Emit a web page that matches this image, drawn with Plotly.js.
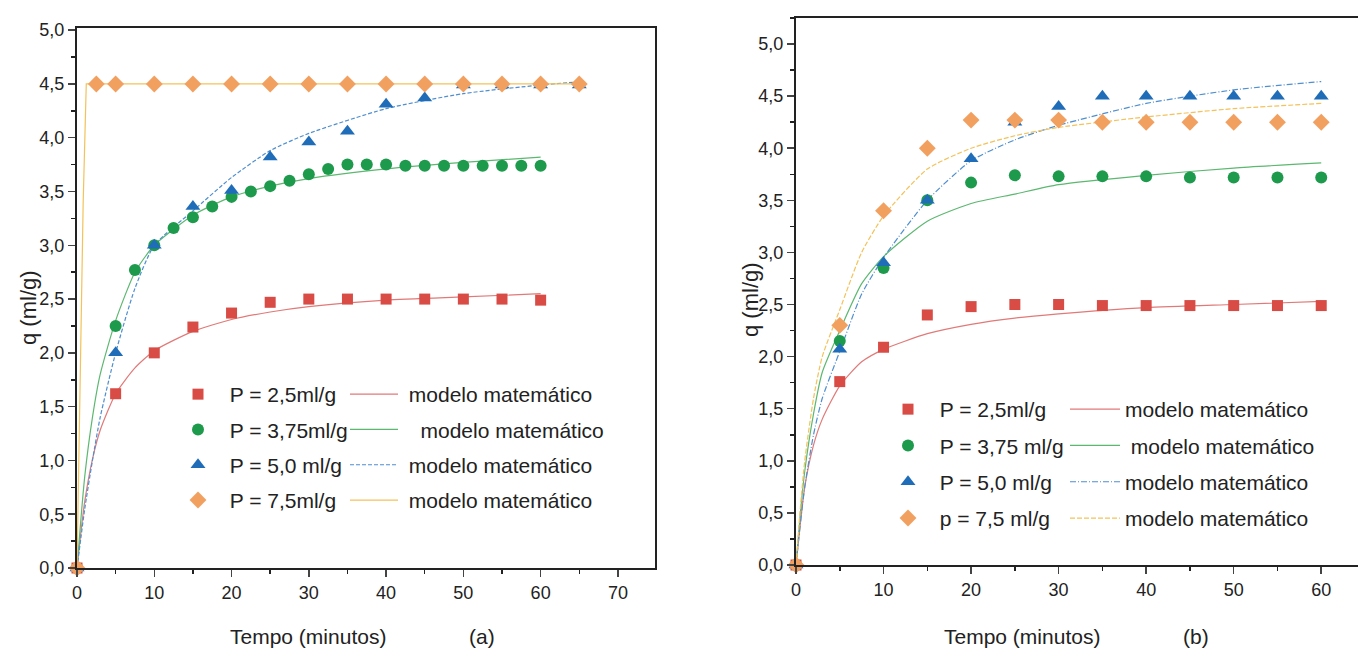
<!DOCTYPE html>
<html>
<head>
<meta charset="utf-8">
<script src="https://cdn.plot.ly/plotly-3.0.1.min.js"></script>
<style>
html,body{margin:0;padding:0;background:#fff;}
#chart{width:1358px;height:654px;}
</style>
</head>
<body>
<div id="chart"></div>
<script>
// ---------- Chart (a) : measured data ----------
const a_t25  = [0,5,10,15,20,25,30,35,40,45,50,55,60];
const a_q25  = [0,1.62,2.0,2.24,2.37,2.47,2.5,2.5,2.5,2.5,2.5,2.5,2.49];
const a_t375 = [0,5,7.5,10,12.5,15,17.5,20,22.5,25,27.5,30,32.5,35,37.5,40,42.5,45,47.5,50,52.5,55,57.5,60];
const a_q375 = [0,2.25,2.77,3.0,3.16,3.26,3.36,3.45,3.5,3.55,3.6,3.66,3.71,3.75,3.75,3.75,3.74,3.74,3.74,3.74,3.74,3.74,3.74,3.74];
const a_t50  = [0,5,10,15,20,25,30,35,40,45,50,55,60,65];
const a_q50  = [0,2.0,3.0,3.36,3.51,3.82,3.96,4.06,4.31,4.37,4.49,4.49,4.49,4.49];
const a_t75  = [0,2.5,5,10,15,20,25,30,35,40,45,50,55,60,65];
const a_q75  = [0,4.5,4.5,4.5,4.5,4.5,4.5,4.5,4.5,4.5,4.5,4.5,4.5,4.5,4.5];
// ---------- Chart (a) : model curves ----------
const a_mt    = [0,0.5,1,2,3,5,7.5,10,15,20,25,30,40,50,60];
const a_m25   = [0,0.33,0.62,1.01,1.28,1.62,1.86,2.02,2.2,2.31,2.38,2.43,2.49,2.52,2.55];
const a_m375  = [0,0.45,0.85,1.4,1.8,2.3,2.75,3.0,3.28,3.45,3.55,3.62,3.71,3.77,3.82];
const a_mt50  = [0,0.5,1,2,3,5,7.5,10,15,20,25,30,40,50,60,65];
const a_m50   = [0,0.28,0.55,1.0,1.4,2.0,2.6,3.0,3.32,3.63,3.88,4.04,4.27,4.41,4.49,4.52];
const a_mt75  = [0,0.4,0.8,1.2,65];
const a_m75   = [0,1.6,3.4,4.5,4.5];

// ---------- Chart (b) : measured data ----------
const b_t    = [0,5,10,15,20,25,30,35,40,45,50,55,60];
const b_q25  = [0,1.76,2.09,2.4,2.48,2.5,2.5,2.49,2.49,2.49,2.49,2.49,2.49];
const b_q375 = [0,2.15,2.85,3.5,3.67,3.74,3.73,3.73,3.73,3.72,3.72,3.72,3.72];
const b_q50  = [0,2.07,2.9,3.5,3.9,4.25,4.4,4.5,4.5,4.5,4.5,4.5,4.5];
const b_q75  = [0,2.3,3.4,4.0,4.27,4.27,4.27,4.25,4.25,4.25,4.25,4.25,4.25];
// ---------- Chart (b) : model curves ----------
const b_mt   = [0,0.5,1,2,3,5,7.5,10,15,20,25,30,40,50,60];
const b_m25  = [0,0.4,0.75,1.15,1.4,1.72,1.95,2.07,2.22,2.31,2.37,2.41,2.47,2.5,2.53];
const b_m375 = [0,0.5,0.9,1.45,1.85,2.25,2.7,2.96,3.3,3.47,3.56,3.65,3.74,3.81,3.86];
const b_m50  = [0,0.4,0.75,1.25,1.6,2.05,2.6,2.95,3.5,3.88,4.08,4.22,4.43,4.56,4.64];
const b_m75  = [0,0.55,1.0,1.6,2.0,2.45,3.0,3.35,3.8,4.0,4.12,4.2,4.3,4.38,4.43];

// ---------- labels ----------
const a_labels = ["P = 2,5ml/g","P = 3,75ml/g","P = 5,0 ml/g","P = 7,5ml/g"];
const b_labels = ["P = 2,5ml/g","P = 3,75 ml/g","P = 5,0 ml/g","p = 7,5 ml/g"];
const modelLabel = "modelo matemático";
const xTitleA = "Tempo (minutos)";
const xTagA = "(a)";
const xTitleB = "Tempo (minutos)";
const xTagB = "(b)";
const yTitle = "q (ml/g)";

// ---------- styles ----------
const FONT = "'Liberation Sans', Arial, sans-serif";
const mkCol = {r:'#d94b45', g:'#1e9a4c', b:'#1f6db8', o:'#f2a060'};
const lnCol = {r:'#e07a78', g:'#5cb870', b:'#4f8fd0', o:'#f3c25a'};
const sym = {r:'square', g:'circle', b:'triangle-up', o:'diamond'};
const msize = {r:11, g:12, b:13, o:13};
const NB = '&nbsp;&nbsp;';

function pts(x,y,c,name,xa,ya,leg,grp){
  return {type:'scatter',mode:'markers',x:x,y:y,name:NB+name,xaxis:xa,yaxis:ya,
    legend:leg,legendgroup:grp,cliponaxis:false,
    marker:{symbol:sym[c],color:mkCol[c],size:msize[c],line:{width:0}}};
}
function mdl(x,y,c,xa,ya,leg,grp,dash,pre){
  return {type:'scatter',mode:'lines',x:x,y:y,name:(pre||'')+modelLabel,xaxis:xa,yaxis:ya,
    legend:leg,legendgroup:grp,line:{color:lnCol[c],width:1.2,dash:dash||'solid',shape:'spline',smoothing:0.6}};
}

const traces = [
  // chart a models
  mdl(a_mt,a_m25,'r','x','y','legend2','am1','solid','&nbsp;'),
  mdl(a_mt,a_m375,'g','x','y','legend2','am2','solid','&nbsp;&nbsp;&nbsp;'),
  mdl(a_mt50,a_m50,'b','x','y','legend2','am3','4px,2px','&nbsp;'),
  Object.assign(mdl(a_mt75,a_m75,'o','x','y','legend2','am4','solid','&nbsp;'),{line:{color:lnCol.o,width:1.2}}),
  // chart a data
  pts(a_t25,a_q25,'r',a_labels[0],'x','y','legend','ad1'),
  pts(a_t375,a_q375,'g',a_labels[1],'x','y','legend','ad2'),
  pts(a_t50,a_q50,'b',a_labels[2],'x','y','legend','ad3'),
  pts(a_t75,a_q75,'o',a_labels[3],'x','y','legend','ad4'),
  // chart b models
  mdl(b_mt,b_m25,'r','x2','y2','legend4','bm1'),
  mdl(b_mt,b_m375,'g','x2','y2','legend4','bm2','solid','&nbsp;'),
  mdl(b_mt,b_m50,'b','x2','y2','legend4','bm3','6px,2px,1px,2px'),
  mdl(b_mt,b_m75,'o','x2','y2','legend4','bm4','5px,2px'),
  // chart b data
  pts(b_t,b_q25,'r',b_labels[0],'x2','y2','legend3','bd1'),
  pts(b_t,b_q375,'g',b_labels[1],'x2','y2','legend3','bd2'),
  pts(b_t,b_q50,'b',b_labels[2],'x2','y2','legend3','bd3'),
  pts(b_t,b_q75,'o',b_labels[3],'x2','y2','legend3','bd4')
];
traces.forEach((t,i)=>{ t.legendrank = i; });

const W=1358,H=654;
const px=v=>v/W, py=v=>1-v/H;

function xax(domain,range){
  return {domain:domain,range:range,dtick:10,tick0:0,ticks:'outside',ticklen:7,tickwidth:1.5,
    showline:true,linewidth:2,linecolor:'#222',mirror:true,showgrid:false,zeroline:false,
    minor:{ticks:'outside',ticklen:4,dtick:5,tickcolor:'#222'},
    tickfont:{family:FONT,size:18,color:'#222'},
    automargin:false,fixedrange:true};
}
function yax(domain,range,anchor){
  return {domain:domain,range:range,dtick:0.5,tick0:0,tickformat:'.1f',ticks:'outside',ticklen:7,tickwidth:1.5,
    showline:true,linewidth:2,linecolor:'#222',mirror:true,showgrid:false,zeroline:false,anchor:anchor,
    minor:{ticks:'outside',ticklen:4,dtick:0.25,tickcolor:'#222'},
    tickfont:{family:FONT,size:18,color:'#222'},
    automargin:false,fixedrange:true};
}
function leg(xp,yp,iw,gap){
  return {x:px(xp),y:py(yp),xanchor:'left',yanchor:'top',bgcolor:'rgba(0,0,0,0)',
    font:{family:FONT,size:21,color:'#222'},traceorder:'grouped',tracegroupgap:gap,
    itemwidth:iw};
}
function ann(text,x,y,size,angle){
  return {text:text,x:px(x),y:py(y),xref:'paper',yref:'paper',showarrow:false,
    xanchor:'center',yanchor:'middle',textangle:angle||0,
    font:{family:FONT,size:size,color:'#222'}};
}

const layout = {
  width:W,height:H,margin:{l:0,r:0,t:0,b:0},
  paper_bgcolor:'#fff',plot_bgcolor:'#fff',separators:', ',
  font:{family:FONT,color:'#222'},
  showlegend:true,
  xaxis: xax([px(77),px(655)],[0,74.8]),
  yaxis: yax([1-568/H,1-28/H],[0,5.02],'x'),
  xaxis2: Object.assign(xax([px(796),1],[0,64.2]),{anchor:'y2'}),
  yaxis2: yax([1-565/H,1-18/H],[0,5.25],'x2'),
  legend: leg(178,374,30,5),
  legend2: leg(345,374,48,5),
  legend3: leg(888,389,30,6),
  legend4: leg(1065,389,50,6),
  annotations:[
    ann(xTitleA,308,636,21), ann(xTagA,482,636,21),
    ann(xTitleB,1022,636,21), ann(xTagB,1196,636,21),
    ann(yTitle,28,308,22,-90), ann(yTitle,750,300,22,-90)
  ]
};

Plotly.newPlot('chart',traces,layout,{displayModeBar:false,staticPlot:true});
</script>
</body>
</html>
